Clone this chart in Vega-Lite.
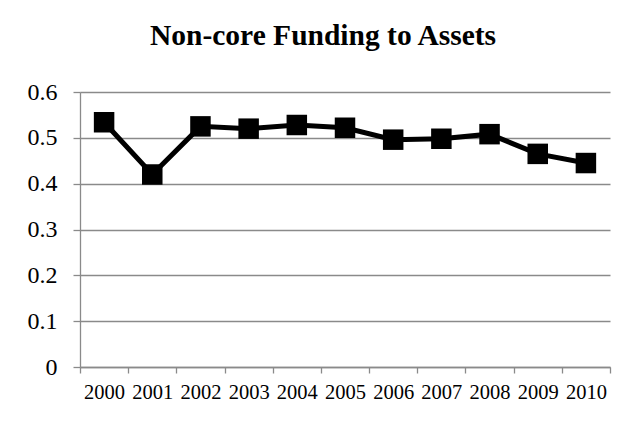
{
  "$schema": "https://vega.github.io/schema/vega-lite/v6.json",
  "width": 530,
  "height": 275,
  "autosize": "none",
  "padding": {"left": 80, "top": 92, "right": 30, "bottom": 54},
  "background": "white",
  "title": {
    "text": "Non-core Funding to Assets",
    "font": "Liberation Serif",
    "fontSize": 29.5,
    "fontWeight": "bold",
    "color": "black",
    "anchor": "middle",
    "baseline": "alphabetic",
    "dx": -22,
    "offset": 6
  },
  "config": {
    "font": "Liberation Serif",
    "view": {"stroke": null},
    "axis": {
      "labelFont": "Liberation Serif",
      "labelColor": "black",
      "domainColor": "#8a8a8a",
      "tickColor": "#8a8a8a",
      "gridColor": "#8a8a8a",
      "domainWidth": 1.3,
      "tickWidth": 1.3,
      "gridWidth": 1.3
    }
  },
  "data": {
    "values": [
      {"year": "2000", "value": 0.534},
      {"year": "2001", "value": 0.420},
      {"year": "2002", "value": 0.525},
      {"year": "2003", "value": 0.520},
      {"year": "2004", "value": 0.528},
      {"year": "2005", "value": 0.522},
      {"year": "2006", "value": 0.496},
      {"year": "2007", "value": 0.498},
      {"year": "2008", "value": 0.508},
      {"year": "2009", "value": 0.465},
      {"year": "2010", "value": 0.445}
    ]
  },
  "encoding": {
    "x": {
      "field": "year",
      "type": "ordinal",
      "bandPosition": 0.5,
      "scale": {"type": "band", "paddingInner": 0, "paddingOuter": 0},
      "axis": {
        "title": null,
        "labelFont": "Liberation Serif",
        "labelAngle": 0,
        "labelFontSize": 20.5,
        "tickBand": "extent",
        "tickSize": 6,
        "labelPadding": 9,
        "grid": false
      }
    },
    "y": {
      "field": "value",
      "type": "quantitative",
      "scale": {"domain": [0, 0.6], "nice": false},
      "axis": {
        "title": null,
        "labelFont": "Liberation Serif",
        "values": [0, 0.1, 0.2, 0.3, 0.4, 0.5, 0.6],
        "format": ".1~f",
        "labelFontSize": 24,
        "tickSize": 7,
        "labelPadding": 16,
        "grid": true
      }
    }
  },
  "layer": [
    {"mark": {"type": "line", "color": "black", "strokeWidth": 5}},
    {"mark": {"type": "point", "shape": "square", "filled": true, "color": "black", "opacity": 1, "size": 420}}
  ]
}
